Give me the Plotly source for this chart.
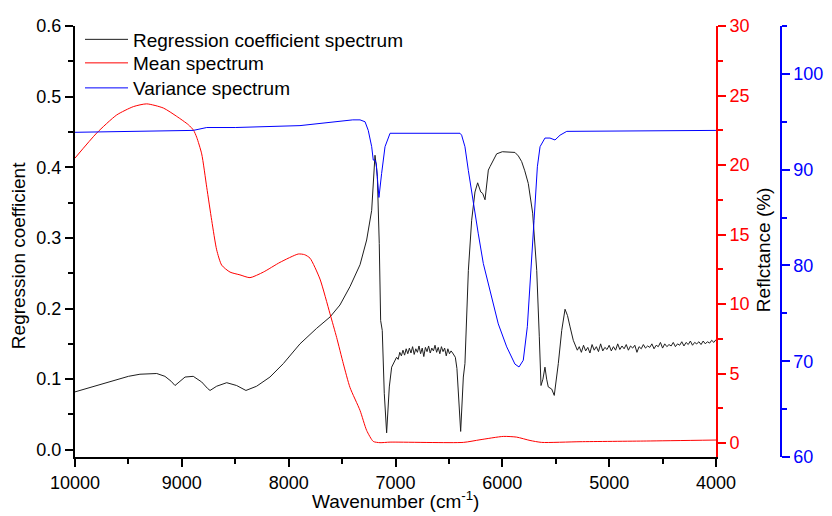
import plotly.graph_objects as go

# ---------------- data ----------------
reg_wn = [10000, 9800, 9672, 9500, 9392, 9235, 9158, 9100, 9064, 9020, 8970, 8893, 8814, 8760, 8736,
          8674, 8580, 8487, 8400, 8300, 8175, 8050, 7894, 7738, 7613, 7520, 7426, 7332, 7270, 7223,
          7208, 7192, 7178, 7170, 7152, 7139, 7124, 7105, 7083, 7058, 7036, 7020, 7005,
          6990, 6975, 6960, 6945, 6930, 6915, 6900, 6885, 6870, 6855, 6840, 6825, 6810, 6795, 6780,
          6765, 6750, 6735, 6720, 6705, 6690, 6675, 6660, 6645, 6630, 6615, 6600, 6585, 6570, 6555,
          6540, 6525, 6510, 6495, 6480, 6465, 6450, 6440,
          6425, 6412, 6390, 6365, 6350, 6318, 6287, 6256, 6231, 6202, 6184, 6162, 6131, 6115, 6085,
          6053, 6000, 5959, 5882, 5850, 5819, 5790, 5757, 5716, 5678, 5654, 5638, 5620, 5601, 5585,
          5570, 5538, 5514, 5476, 5444, 5413, 5390, 5366, 5336, 5298,
          5280, 5260, 5240, 5220, 5200, 5180, 5160, 5140, 5120, 5100, 5080, 5060, 5040, 5020, 5000,
          4980, 4960, 4940, 4920, 4900, 4880, 4860, 4840, 4820, 4800, 4780, 4760, 4740, 4720, 4700,
          4680, 4660, 4640, 4620, 4600, 4580, 4560, 4540, 4520, 4500, 4480, 4460, 4440, 4420, 4400,
          4380, 4360, 4340, 4320, 4300, 4280, 4260, 4240, 4220, 4200, 4180, 4160, 4140, 4120, 4100,
          4080, 4060, 4040, 4020, 4000]
reg_val = [0.082, 0.091, 0.097, 0.104, 0.107, 0.108, 0.104, 0.097, 0.091, 0.097, 0.103, 0.104, 0.096, 0.087, 0.084,
           0.090, 0.095, 0.091, 0.084, 0.090, 0.103, 0.122, 0.150, 0.172, 0.188, 0.205, 0.231, 0.262, 0.297, 0.339,
           0.387, 0.417, 0.400, 0.387, 0.292, 0.183, 0.169, 0.080, 0.024, 0.089, 0.117, 0.122, 0.125,
           0.131, 0.128, 0.138, 0.133, 0.141, 0.134, 0.143, 0.136, 0.144, 0.137, 0.146, 0.135, 0.143, 0.138, 0.147,
           0.136, 0.144, 0.132, 0.145, 0.139, 0.147, 0.137, 0.144, 0.140, 0.148, 0.138, 0.145, 0.136, 0.146, 0.139,
           0.144, 0.133, 0.143, 0.136, 0.140, 0.137, 0.134, 0.131,
           0.115, 0.080, 0.026, 0.103, 0.122, 0.254, 0.325, 0.365, 0.378, 0.365, 0.363, 0.354, 0.396, 0.401, 0.410,
           0.419, 0.422, 0.422, 0.421, 0.416, 0.408, 0.395, 0.377, 0.335, 0.254, 0.160, 0.091, 0.100, 0.117, 0.100,
           0.089, 0.086, 0.077, 0.122, 0.169, 0.199, 0.190, 0.174, 0.155, 0.141,
           0.146, 0.138, 0.148, 0.140, 0.145, 0.137, 0.149, 0.141, 0.146, 0.139, 0.150, 0.140, 0.145, 0.142, 0.148,
           0.140, 0.146, 0.141, 0.150, 0.142, 0.147, 0.143, 0.149, 0.141, 0.147, 0.144, 0.148, 0.138, 0.146, 0.143,
           0.149, 0.144, 0.147, 0.145, 0.150, 0.143, 0.148, 0.146, 0.152, 0.144, 0.150, 0.146, 0.149, 0.147, 0.152,
           0.146, 0.150, 0.148, 0.153, 0.147, 0.152, 0.149, 0.154, 0.148, 0.152, 0.150, 0.153, 0.149, 0.154, 0.150,
           0.153, 0.151, 0.155, 0.152, 0.156]

mean_wn = [10000, 9797, 9610, 9454, 9329, 9173, 9048, 8939, 8890, 8861, 8814, 8767, 8720,
           8674, 8627, 8549, 8456, 8362, 8237, 8081, 7910, 7850, 7800, 7707, 7613, 7551, 7488, 7426,
           7332, 7270, 7208, 7145, 7051, 6365, 6209, 5991, 5866, 5741, 5632, 5273, 4649, 4000]
mean_val = [20.5, 22.3, 23.6, 24.2, 24.4, 24.1, 23.5, 22.9, 22.5, 22.0, 20.8, 18.4, 16.0,
            13.9, 12.8, 12.3, 12.1, 11.9, 12.3, 13.0, 13.6, 13.55, 13.3, 11.8, 9.3, 7.6, 5.7, 4.0,
            2.35, 0.91, 0.12, 0.03, 0.07, 0.05, 0.24, 0.48, 0.43, 0.19, 0.05, 0.10, 0.15, 0.22]

var_wn = [10000, 9500, 8893, 8767, 8500, 7894, 7582, 7400, 7332, 7285, 7255, 7223, 7208, 7192, 7180,
          7155, 7130, 7098, 7051, 6396, 6381, 6350, 6318, 6272, 6225, 6178, 6115, 6038, 5959, 5882,
          5844, 5804, 5766, 5734, 5703, 5672, 5647, 5601, 5554, 5507, 5460, 5397, 4000]
var_val = [93.9, 94.0, 94.1, 94.4, 94.4, 94.6, 95.0, 95.2, 95.2, 95.0, 94.1, 92.4, 91.0, 91.0, 90.6,
           87.1, 89.6, 92.4, 93.8, 93.8, 93.6, 92.4, 89.9, 86.4, 83.3, 80.2, 77.4, 73.9, 71.5, 69.7,
           69.4, 70.1, 73.6, 78.8, 84.7, 90.3, 92.4, 93.3, 93.3, 93.1, 93.6, 94.0, 94.1]

names = ["Regression coefficient spectrum", "Mean spectrum", "Variance spectrum"]
x_ticks = [10000, 9000, 8000, 7000, 6000, 5000, 4000]

FONT = "Liberation Sans, Arial, sans-serif"
RED = "#ff0000"
BLUE = "#0000ff"

fig = go.Figure()
fig.add_trace(go.Scatter(x=reg_wn, y=reg_val, mode="lines", name=names[0], showlegend=True,
                         line=dict(color="#1e1e1e", width=1), yaxis="y", legend="legend"))
fig.add_trace(go.Scatter(x=mean_wn, y=mean_val, mode="lines", name=names[1], showlegend=True,
                         line=dict(color=RED, width=1, shape="spline", smoothing=0.6), yaxis="y2", legend="legend2"))
fig.add_trace(go.Scatter(x=var_wn, y=var_val, mode="lines", name=names[2], showlegend=True,
                         line=dict(color=BLUE, width=1), yaxis="y3", legend="legend3"))

L, R, T, B = 75, 40, 26, 59.3
W, H = 832, 516
pw = W - L - R
ph = H - T - B
def px_x(p):
    return (p - L) / pw
def px_y(p):
    return (H - B - p) / ph

xdom_end = px_x(716)

tickfont = dict(family=FONT, size=18, color="black")
common = dict(showgrid=False, zeroline=False, showline=True, linewidth=2, ticks="outside",
              ticklen=8, tickwidth=1.5)
legfont = dict(family=FONT, size=19, color="black")

fig.update_layout(
    width=W, height=H, margin=dict(l=L, r=R, t=T, b=B, autoexpand=False),
    paper_bgcolor="white", plot_bgcolor="white", showlegend=True,
    font=dict(family=FONT, size=18, color="black"),
    xaxis=dict(domain=[0, xdom_end], range=[10000, 4000], tickvals=x_ticks, tickformat="d",
               linecolor="black", tickcolor="black", tickfont=tickfont,
               minor=dict(dtick=500, ticklen=5, tickcolor="black", ticks="outside", tickwidth=1.5),
               **common),
    yaxis=dict(range=[-0.0102, 0.6], dtick=0.1, tick0=0, tickformat=".1f", linecolor="black",
               tickcolor="black", tickfont=tickfont, anchor="x",
               minor=dict(dtick=0.05, ticklen=5, tickcolor="black", ticks="outside", tickwidth=1.5),
               **common),
    yaxis2=dict(range=[-1.0, 30], dtick=5, tick0=0, overlaying="y", side="right", anchor="x",
                linecolor=RED, tickcolor=RED, tickfont=dict(family=FONT, size=18, color=RED),
                minor=dict(dtick=2.5, ticklen=5, tickcolor=RED, ticks="outside", tickwidth=1.5),
                **common),
    yaxis3=dict(range=[60, 105], dtick=10, tick0=60, overlaying="y", side="right", anchor="free",
                position=px_x(780.7),
                linecolor=BLUE, tickcolor=BLUE, tickfont=dict(family=FONT, size=18, color=BLUE),
                minor=dict(dtick=5, ticklen=5, tickcolor=BLUE, ticks="outside", tickwidth=1.5),
                **common),
    legend=dict(x=px_x(80), y=px_y(20.5), xanchor="left", yanchor="top", bgcolor="rgba(0,0,0,0)",
                font=legfont, itemwidth=43),
    legend2=dict(x=px_x(80), y=px_y(44), xanchor="left", yanchor="top", bgcolor="rgba(0,0,0,0)",
                 font=legfont, itemwidth=43),
    legend3=dict(x=px_x(80), y=px_y(69), xanchor="left", yanchor="top", bgcolor="rgba(0,0,0,0)",
                 font=legfont, itemwidth=43),
    annotations=[
        dict(text="Regression coefficient", xref="paper", yref="paper", x=px_x(18), y=px_y(256),
             textangle=-90, showarrow=False, font=dict(family=FONT, size=19, color="black"),
             xanchor="center", yanchor="middle"),
        dict(text="Reflctance (%)", xref="paper", yref="paper", x=px_x(763), y=px_y(250),
             textangle=-90, showarrow=False, font=dict(family=FONT, size=19, color="black"),
             xanchor="center", yanchor="middle"),
        dict(text="Wavenumber (cm<sup>-1</sup>)", xref="paper", yref="paper", x=px_x(395.5), y=px_y(500),
             showarrow=False, font=dict(family=FONT, size=19, color="black"),
             xanchor="center", yanchor="middle"),
    ],
)

fig.write_html("out.html", post_script="document.body.style.margin='0';",
               config={"displayModeBar": False})
